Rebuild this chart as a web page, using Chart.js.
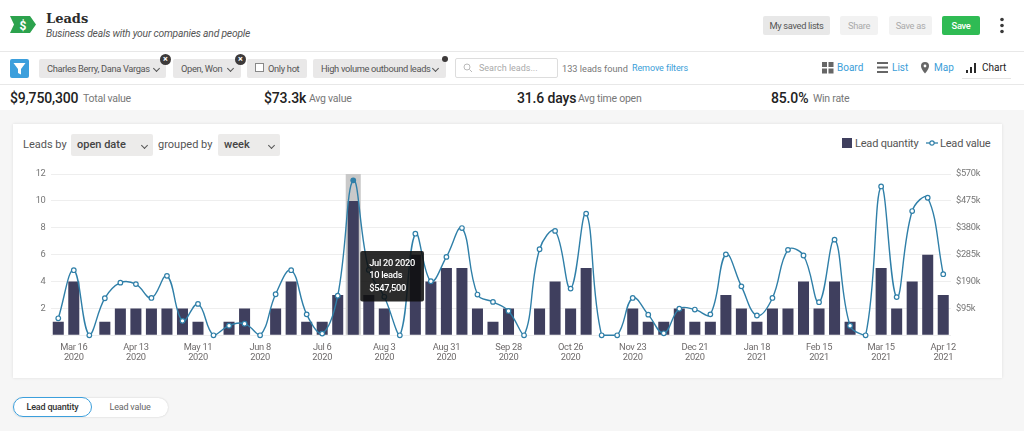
<!DOCTYPE html>
<html><head><meta charset="utf-8">
<script src="https://cdn.jsdelivr.net/npm/chart.js@4"></script>
<style>
html,body{margin:0;padding:0;width:1024px;height:431px;overflow:hidden;background:#f6f6f6;font-family:Roboto,sans-serif;color:#333}
.a{position:absolute;white-space:nowrap;line-height:1}
.chip{position:absolute;top:59px;height:19px;background:#e9e8e8;border-radius:2px;font-size:9.3px;letter-spacing:-.33px;line-height:19px;color:#555;white-space:nowrap;box-sizing:border-box;padding-left:8px}
.x{position:absolute;top:54px;width:11px;height:11px;border-radius:50%;background:#3d3a3a;color:#fff;font-size:9px;line-height:11px;text-align:center;font-weight:700}
.btn{position:absolute;top:16px;height:19px;border-radius:2px;font-size:9.3px;letter-spacing:-.33px;line-height:19px;text-align:center;box-sizing:border-box}
.stat{position:absolute;top:90px;font-size:14px;letter-spacing:-.15px;line-height:16px;font-weight:500;color:#222;white-space:nowrap}
.lab{position:absolute;top:92px;font-size:10.5px;letter-spacing:-.25px;line-height:14px;color:#777;white-space:nowrap}
.sel{position:absolute;top:134px;height:22px;background:#ecebea;border-radius:2px;font-size:11px;line-height:22px;font-weight:500;color:#444;box-sizing:border-box;padding-left:6px}
.chev{position:absolute;width:4px;height:4px;border-right:1.3px solid #555;border-bottom:1.3px solid #555;transform:rotate(45deg)}
</style></head><body>
<div class="a" style="left:0;top:0;width:1024px;height:110px;background:#fff"></div>
<div class="a" style="left:0;top:51px;width:1024px;height:1px;background:#e8e8e8"></div>
<div class="a" style="left:0;top:84px;width:1024px;height:1px;background:#e8e8e8"></div>

<svg class="a" style="left:10px;top:16px" width="27" height="18"><path d="M0 0H20L26 8.500L20 17H0L4 8.500Z" fill="#2ca24d"/><text x="13" y="13.500" font-size="12" font-weight="700" text-anchor="middle" fill="#fff" font-family="Roboto">$</text></svg>
<div class="a" style="left:46px;top:11px;font:700 13px 'DejaVu Serif',serif;color:#2b2b2b">Leads</div>
<div class="a" style="left:46px;top:29px;font-size:10.3px;letter-spacing:-.2px;font-style:italic;color:#555">Business deals with your companies and people</div>

<div class="btn" style="left:763px;width:67px;background:#e8e8e8;color:#555">My saved lists</div>
<div class="btn" style="left:840px;width:38px;background:#f2f2f2;color:#aaa">Share</div>
<div class="btn" style="left:889px;width:43px;background:#f2f2f2;color:#aaa">Save as</div>
<div class="btn" style="left:942px;width:38px;background:#2fbb54;color:#fff;font-weight:500">Save</div>
<svg class="a" style="left:998px;top:17px" width="8" height="18"><circle cx="4" cy="2.500" r="1.800" fill="#3a3a3a"/><circle cx="4" cy="8.500" r="1.800" fill="#3a3a3a"/><circle cx="4" cy="14.500" r="1.800" fill="#3a3a3a"/></svg>

<svg class="a" style="left:10px;top:59px" width="19" height="19"><rect width="19" height="19" rx="2" fill="#3c9fdc"/><path d="M3.500 4H15.500L11 10V15.500L8 14V10Z" fill="#fff"/></svg>
<div class="chip" style="left:39px;width:127px">Charles Berry, Dana Vargas</div><div class="chev" style="left:154px;top:66px"></div>
<div class="chip" style="left:173px;width:68px">Open, Won</div><div class="chev" style="left:228px;top:66px"></div>
<div class="chip" style="left:247px;width:60px;padding-left:21px">Only hot</div>
<div class="a" style="left:255px;top:63px;width:7px;height:7px;border:1px solid #888;background:#fff"></div>
<div class="chip" style="left:313px;width:133px">High volume outbound leads</div><div class="chev" style="left:433px;top:66px"></div>
<div class="x" style="left:160px">×</div><div class="x" style="left:235px">×</div>
<div class="a" style="left:442px;top:56px;width:6px;height:6px;border-radius:50%;background:#3d3a3a"></div>
<div class="a" style="left:455px;top:58px;width:103px;height:20px;border:1px solid #ddd;border-radius:2px;box-sizing:border-box;background:#fff"></div>
<svg class="a" style="left:463px;top:63px" width="10" height="10"><circle cx="4" cy="4" r="3" fill="none" stroke="#bbb"/><path d="M6.500 6.500L9 9" stroke="#bbb"/></svg>
<div class="a" style="left:479px;top:64px;font-size:9px;color:#aaa">Search leads...</div>
<div class="a" style="left:562px;top:64px;font-size:9.2px;color:#777">133 leads found</div>
<div class="a" style="left:632px;top:64px;font-size:9px;letter-spacing:-.1px;color:#3b9ed8">Remove filters</div>

<svg class="a" style="left:822px;top:62px" width="12" height="12"><g fill="#666"><rect width="5" height="5"/><rect x="6.500" width="5" height="5"/><rect y="6.500" width="5" height="5"/><rect x="6.500" y="6.500" width="5" height="5"/></g></svg>
<div class="a" style="left:837px;top:63px;font-size:10px;color:#3b9ed8">Board</div>
<svg class="a" style="left:877px;top:62px" width="12" height="12"><g fill="#666"><rect width="11" height="2"/><rect y="4.500" width="11" height="2"/><rect y="9" width="11" height="2"/></g></svg>
<div class="a" style="left:892px;top:63px;font-size:10px;color:#3b9ed8">List</div>
<svg class="a" style="left:921px;top:62px" width="10" height="12"><path d="M4 0A4 4 0 0 1 8 4C8 7 4 11.500 4 11.500S0 7 0 4A4 4 0 0 1 4 0Z" fill="#666"/><circle cx="4" cy="4" r="1.400" fill="#fff"/></svg>
<div class="a" style="left:934px;top:63px;font-size:10px;color:#3b9ed8">Map</div>
<svg class="a" style="left:966px;top:62px" width="11" height="12"><g fill="#2a2a2a"><rect x="0" y="8" width="2" height="3"/><rect x="4" y="5" width="2" height="6"/><rect x="8" y="1" width="2" height="10"/></g></svg>
<div class="a" style="left:982px;top:63px;font-size:10px;color:#222">Chart</div>
<div class="a" style="left:962px;top:78px;width:49px;height:1px;background:#e4e4e4"></div>

<div class="stat" style="left:10px">$9,750,300</div><div class="lab" style="left:83px">Total value</div>
<div class="stat" style="left:264px">$73.3k</div><div class="lab" style="left:309px">Avg value</div>
<div class="stat" style="left:517px">31.6 days</div><div class="lab" style="left:578px">Avg time open</div>
<div class="stat" style="left:771px">85.0%</div><div class="lab" style="left:813px">Win rate</div>

<div class="a" style="left:13px;top:124px;width:989px;height:254px;background:#fff;box-shadow:0 0 3px rgba(0,0,0,.10)"></div>
<div class="a" style="left:23px;top:139px;font-size:11px;color:#555">Leads by</div>
<div class="sel" style="left:71px;width:82px">open date</div><div class="chev" style="left:142px;top:143px"></div>
<div class="a" style="left:158px;top:139px;font-size:11px;color:#555">grouped by</div>
<div class="sel" style="left:218px;width:62px">week</div><div class="chev" style="left:269px;top:143px"></div>

<div class="a" style="left:842px;top:138px;width:10px;height:10px;background:#3f3f5e"></div>
<div class="a" style="left:855px;top:138px;font-size:11px;letter-spacing:-.2px;color:#555">Lead quantity</div>
<svg class="a" style="left:926px;top:139px" width="13" height="8"><path d="M0 4H12" stroke="#2f7fa8" stroke-width="1.300"/><circle cx="6" cy="4" r="2.200" fill="#fff" stroke="#2f7fa8" stroke-width="1.200"/></svg>
<div class="a" style="left:940px;top:138px;font-size:11px;letter-spacing:-.2px;color:#555">Lead value</div>

<div style="position:absolute;left:12px;top:124px;width:990px;height:254px"><canvas id="c" width="990" height="254"></canvas></div>

<div class="a" style="left:13px;top:398px;width:155px;height:19px;background:#fff;border-radius:10px;box-shadow:0 0 2px rgba(0,0,0,.18)"></div>
<div class="a" style="left:13px;top:397px;width:79px;height:20px;border:1px solid #3c9fdc;border-radius:10px;box-sizing:border-box;background:#fff;font-size:9px;letter-spacing:-.2px;line-height:18px;text-align:center;font-weight:500;color:#333">Lead quantity</div>
<div class="a" style="left:92px;top:398px;width:76px;height:19px;font-size:9px;letter-spacing:-.2px;line-height:19px;text-align:center;color:#666">Lead value</div>

<script>
const categories = ["Mar 9 2020","Mar 16 2020","Mar 23 2020","Mar 30 2020","Apr 6 2020","Apr 13 2020","Apr 20 2020","Apr 27 2020","May 4 2020","May 11 2020","May 18 2020","May 25 2020","Jun 1 2020","Jun 8 2020","Jun 15 2020","Jun 22 2020","Jun 29 2020","Jul 6 2020","Jul 13 2020","Jul 20 2020","Jul 27 2020","Aug 3 2020","Aug 10 2020","Aug 17 2020","Aug 24 2020","Aug 31 2020","Sep 7 2020","Sep 14 2020","Sep 21 2020","Sep 28 2020","Oct 5 2020","Oct 12 2020","Oct 19 2020","Oct 26 2020","Nov 2 2020","Nov 9 2020","Nov 16 2020","Nov 23 2020","Nov 30 2020","Dec 7 2020","Dec 14 2020","Dec 21 2020","Dec 28 2020","Jan 4 2021","Jan 11 2021","Jan 18 2021","Jan 25 2021","Feb 1 2021","Feb 8 2021","Feb 15 2021","Feb 22 2021","Mar 1 2021","Mar 8 2021","Mar 15 2021","Mar 22 2021","Mar 29 2021","Apr 5 2021","Apr 12 2021"];
const leadQuantity = [1,4,0,1,2,2,2,2,2,1,0,1,2,0,2,4,1,1,3,10,3,2,0,6,4,5,5,2,1,2,0,2,4,2,5,0,0,2,1,1,2,1,1,3,2,1,2,2,4,2,4,1,0,5,2,4,6,3];
const leadValueK = [60,230,0,131,186,181,132,210,51,111,0,34,41,0,145,230,74,6,140,547.5,231,136,0,359,191,277,379,144,118,86,0,304,369,165,430,0,0,132,73,7,94,91,74,286,173,70,132,302,282,117,338,34,0,526,135,439,486,216];
const highlight = [null,null,null,null,null,null,null,null,null,null,null,null,null,null,null,null,null,null,null,12];
const activeIndex = 19;
const activeText = ["10 leads","$547,500"];

const BLUE = "#2f7fa8";
Chart.Tooltip.positioners.pinned = function(items){
  if(!items.length) return false;
  return {x: items[0].element.x + 7, y: this.chart.scales.y.getPixelForValue(4.4)};
};
const font = {family:"Roboto,sans-serif", size:9.3};
const tightText = {id:"tightText",
  beforeUpdate(c){c.ctx.letterSpacing="-0.3px"},
  beforeDraw(c){c.ctx.letterSpacing="-0.3px"}};
const chart = new Chart(document.getElementById("c"),{
  type:"bar",
  plugins:[tightText],
  data:{labels:categories,datasets:[
    {type:"line",label:"Lead value",data:leadValueK,yAxisID:"y1",order:0,borderColor:BLUE,borderWidth:1.4,tension:0.4,clip:false,
     pointRadius:2.3,pointBorderWidth:1.2,pointBorderColor:BLUE,
     pointBackgroundColor:c=>c.dataIndex===activeIndex?BLUE:"#fff"},
    {label:"Lead quantity",data:leadQuantity,yAxisID:"y",order:1,backgroundColor:"#3f3f5e",categoryPercentage:1,barPercentage:0.71},
    {label:"Hover",data:highlight,yAxisID:"y",order:2,backgroundColor:"#c9c9c9",categoryPercentage:1,barPercentage:0.97}
  ]},
  options:{
    responsive:false,animation:false,events:[],
    layout:{padding:{top:50,left:0,right:0,bottom:0}},
    plugins:{legend:{display:false},
      tooltip:{enabled:true,position:"pinned",xAlign:"left",yAlign:"center",caretSize:0,caretPadding:0,
        backgroundColor:"rgba(15,15,15,.88)",cornerRadius:2,displayColors:false,
        padding:{left:9,right:9,top:7,bottom:7},
        titleColor:"#fff",bodyColor:"#fff",titleFont:{...font,weight:"500"},bodyFont:{...font,weight:"500"},
        titleMarginBottom:1.5,bodySpacing:1.5,
        filter:i=>i.datasetIndex===1,
        callbacks:{title:i=>categories[i[0].dataIndex],label:()=>activeText}}},
    scales:{
      x:{stacked:true,grid:{display:false},border:{display:false},
         afterFit:s=>{s.height=42.7},
         ticks:{autoSkip:false,maxRotation:0,minRotation:0,padding:0,color:"#6f6b6b",font:{...font,lineHeight:1.02},
           callback(v,i){if(i%4!==1)return "";const p=categories[i].split(" ");return [p[0]+" "+p[1],p[2]];}}},
      y:{position:"left",min:0,max:12,border:{display:false},grid:{color:"#eeeeee",drawTicks:false},
         afterFit:s=>{s.width=38.5},
         ticks:{stepSize:2,padding:5,color:"#777",font,callback:v=>v===0?"":v}},
      y1:{position:"right",min:0,max:570,border:{display:false},grid:{display:false,drawTicks:false},
         afterFit:s=>{s.width=51},
         ticks:{stepSize:95,padding:5,color:"#777",font,callback:v=>v===0?"":"$"+v+"k"}}
    }
  }
});
chart.tooltip.setActiveElements([{datasetIndex:1,index:activeIndex}],{x:0,y:0});
chart.update();
</script>
</body></html>
